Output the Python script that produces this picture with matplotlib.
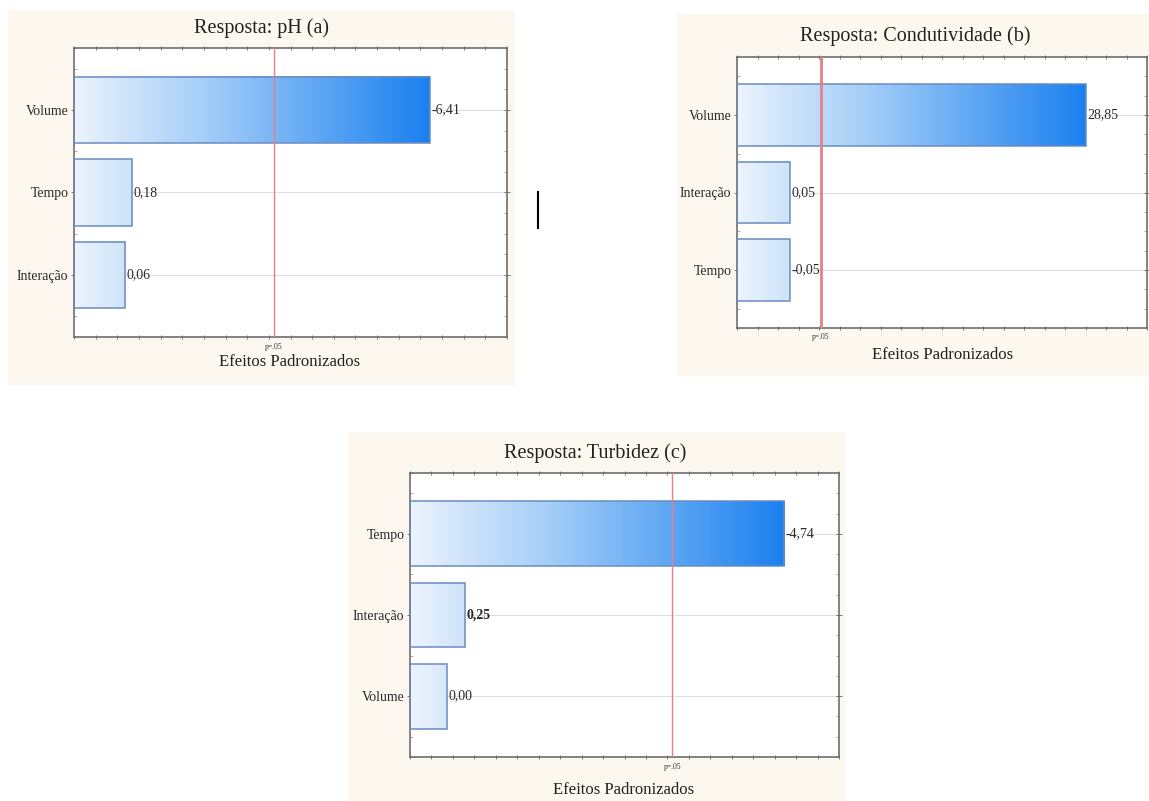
import numpy as np
import matplotlib
matplotlib.use("Agg")
import matplotlib.pyplot as plt
from matplotlib.colors import LinearSegmentedColormap
from matplotlib.patches import Rectangle
from matplotlib.lines import Line2D
import matplotlib.transforms as mtransforms

plt.rcParams['font.family'] = ['Liberation Serif', 'DejaVu Serif']

# ---------------- data ----------------
titles = ["Resposta: pH (a)", "Resposta: Condutividade (b)", "Resposta: Turbidez (c)"]

cats_a = ["Volume", "Tempo", "Interação"]
labels_a = ["-6,41", "0,18", "0,06"]
bars_a = [82.2, 13.4, 11.8]          # bar lengths as drawn (relative scale 0-100)
crit_a = 46.2

cats_b = ["Volume", "Interação", "Tempo"]
labels_b = ["28,85", "0,05", "-0,05"]
bars_b = [85.1, 12.9, 12.9]
crit_b = 20.5

cats_c = ["Tempo", "Interação", "Volume"]
labels_c = ["-4,74", "0,25", "0,00"]
bars_c = [87.2, 12.8, 8.6]
crit_c = 61.1

crit_label = "p=.05"
xlabel = "Efeitos Padronizados"

# ---------------- figure ----------------
W, H = 1149, 801
fig = plt.figure(figsize=(W / 100, H / 100), dpi=100)
fig.patch.set_facecolor("white")

def px_rect(x0, y0, x1, y1):
    return [x0 / W, 1 - y1 / H, (x1 - x0) / W, (y1 - y0) / H]

beige = "#fcf8f0"
for (x0, y0, x1, y1) in [(8, 10, 515, 385), (677, 14, 1149, 376), (348, 432, 845, 801)]:
    r = px_rect(x0, y0, x1, y1)
    fig.patches.append(Rectangle((r[0], r[1]), r[2], r[3], transform=fig.transFigure,
                                 facecolor=beige, edgecolor="none", zorder=-10))

cmap = LinearSegmentedColormap.from_list(
    "grad", [(0.0, "#edf4fd"), (0.12, "#d3e6fa"), (0.35, "#a9d0f8"), (1.0, "#1a80ef")])

panels = [
    dict(rect=(74, 48, 507, 337), cats=cats_a, labels=labels_a, bars=bars_a, crit=crit_a,
         title=titles[0], tpos=(261, 28), xlpos=(290, 362), crit_lw=1.0,
         bold=[False, False, False]),
    dict(rect=(737, 57, 1147, 328), cats=cats_b, labels=labels_b, bars=bars_b, crit=crit_b,
         title=titles[1], tpos=(915, 36), xlpos=(943, 355), crit_lw=2.0,
         bold=[False, False, False]),
    dict(rect=(410, 473, 839, 757), cats=cats_c, labels=labels_c, bars=bars_c, crit=crit_c,
         title=titles[2], tpos=(595, 453), xlpos=(624, 790), crit_lw=1.0,
         bold=[False, True, False]),
]

for p in panels:
    x0, y0, x1, y1 = p["rect"]
    ax = fig.add_axes(px_rect(x0, y0, x1, y1))
    ax.set_facecolor("white")
    n = len(p["cats"])
    ypos = np.arange(n)
    vmax = max(p["bars"])
    # grid lines at bar centres
    for y in ypos:
        ax.axhline(y, color="#dedede", lw=0.8, zorder=1)
    # gradient fills
    for y, L in zip(ypos, p["bars"]):
        grad = np.linspace(0, L, 256).reshape(1, -1)
        ax.imshow(grad, extent=[0, L, y + 0.4, y - 0.4], aspect="auto", cmap=cmap,
                  vmin=0, vmax=vmax, zorder=2, interpolation="bilinear")
    ax.barh(ypos, p["bars"], height=0.8, facecolor="none", edgecolor="#6a8cc2",
            linewidth=1.1, zorder=3)
    ax.axvline(p["crit"], color="#e97f85", lw=p["crit_lw"], zorder=4)
    for y, L, lab, b in zip(ypos, p["bars"], p["labels"], p["bold"]):
        ax.text(L + 0.4, y, lab, va="center", ha="left", fontsize=10,
                fontweight="bold" if b else "normal", color="#2a2a2a", zorder=5)
    ax.set_xlim(0, 100)
    ax.set_ylim(n - 0.25, -0.75)
    ax.set_yticks(ypos)
    ax.set_yticklabels(p["cats"], fontsize=10, color="#2a2a2a")
    ax.set_xticks(np.arange(0, 101, 5))
    ax.set_xticklabels([])
    ax.set_yticks(np.arange(-0.75, n - 0.2, 0.25), minor=True)
    ax.tick_params(axis="x", which="major", direction="inout", length=3, width=0.6,
                   top=True, bottom=True, color="#666666")
    ax.tick_params(axis="y", which="major", direction="inout", length=4, width=0.6,
                   left=True, right=True, color="#666666", pad=2)
    ax.tick_params(axis="y", which="minor", direction="in", length=2, width=0.5,
                   left=True, right=True, color="#888888")
    for s in ax.spines.values():
        s.set_color("#6e6e6e")
        s.set_linewidth(1.2)
    trans = mtransforms.blended_transform_factory(ax.transData, ax.transAxes)
    ax.text(p["crit"], -0.035, crit_label, transform=trans, ha="center", va="center",
            fontsize=5.5, color="#333333")
    fig.text(p["tpos"][0] / W, 1 - p["tpos"][1] / H, p["title"], ha="center", va="center",
             fontsize=14.5, color="#222222")
    fig.text(p["xlpos"][0] / W, 1 - p["xlpos"][1] / H, xlabel, ha="center", va="center",
             fontsize=12, color="#222222")

# small vertical mark between the top panels
fig.add_artist(Line2D([538 / W, 538 / W], [1 - 192 / H, 1 - 228 / H],
                      transform=fig.transFigure, color="black", lw=1.5))

fig.savefig("out.png", dpi=100, facecolor=fig.get_facecolor())
